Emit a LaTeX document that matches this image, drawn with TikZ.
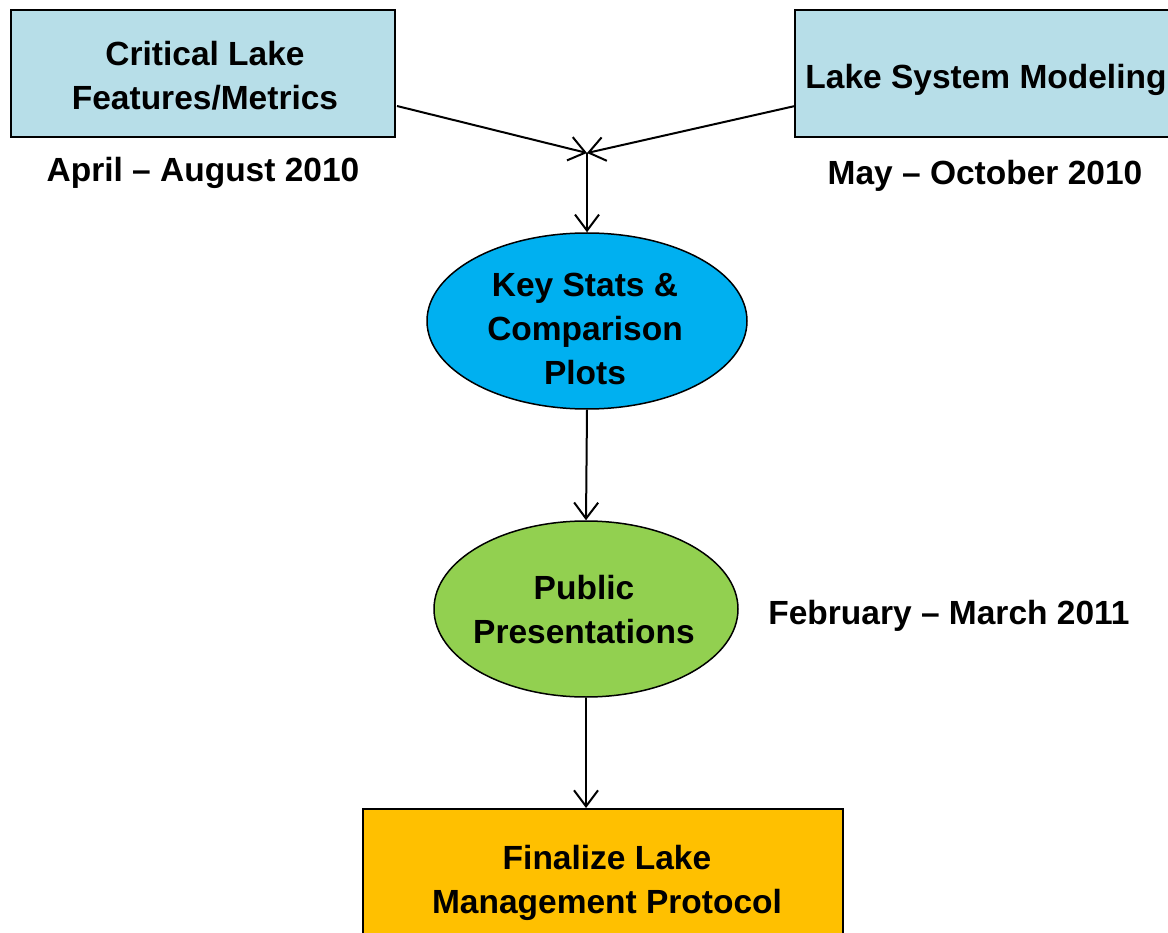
\documentclass[tikz,border=0pt]{standalone}
\usepackage{fontspec}
\setmainfont{Liberation Sans}
\usetikzlibrary{arrows.meta,shapes.geometric}
\definecolor{lightblue}{HTML}{B7DEE8}
\definecolor{cyanfill}{HTML}{00B0F0}
\definecolor{greenfill}{HTML}{92D050}
\definecolor{orangefill}{HTML}{FFC000}
\tikzset{
  txt/.style={font=\bfseries\fontsize{33.5}{44}\selectfont, align=center, text=black},
  boxshape/.style={draw=black, line width=2pt, rectangle, inner sep=0pt},
  ellshape/.style={draw=black, line width=1.5pt, ellipse, inner sep=0pt},
  conn/.style={draw=black, line width=2pt, -{Straight Barb[length=16pt,width=24pt,line width=2pt]}},
  plain/.style={draw=black, line width=2pt}
}
\begin{document}
\begin{tikzpicture}[x=1pt,y=-1pt]
\useasboundingbox (0,0) rectangle (1168,933);
\clip (0,0) rectangle (1168,933);
% boxes
\node[boxshape, fill=lightblue, minimum width=384pt, minimum height=127pt] (crit) at (203,73.5) {};
\node[txt] at (205,76) {Critical Lake\\Features/Metrics};
\node[boxshape, fill=lightblue, minimum width=384pt, minimum height=127pt] (model) at (987,73.5) {};
\node[txt] at (986,80) {Lake System Modeling};
\node[txt] (d1) at (203,173) {April -- August 2010};
\node[txt] (d2) at (985,176) {May -- October 2010};
% ellipses
\node[ellshape, fill=cyanfill, minimum width=320pt, minimum height=176pt] (key) at (587,321) {};
\node[txt] at (585,329) {Key Stats \&\\Comparison\\Plots};
\node[ellshape, fill=greenfill, minimum width=304pt, minimum height=176pt] (pub) at (586,609) {};
\node[txt] at (584,610) {Public\\Presentations};
\node[txt] (d3) at (949,616) {February -- March 2011};
% final box
\node[boxshape, fill=orangefill, minimum width=480pt, minimum height=150pt] (fin) at (603,884) {};
\node[txt] at (607,883) {Finalize Lake\\Management Protocol};
% connectors
\coordinate (m) at (587,153);
\draw[conn] (397,106) -- (m);
\draw[conn] (795,106) -- (m);
\draw[conn] (m) -- (key.north);
\draw[conn] (key.south) -- (pub.north);
\draw[conn] (pub.south) -- (fin.north -| pub.south);
\end{tikzpicture}
\end{document}
